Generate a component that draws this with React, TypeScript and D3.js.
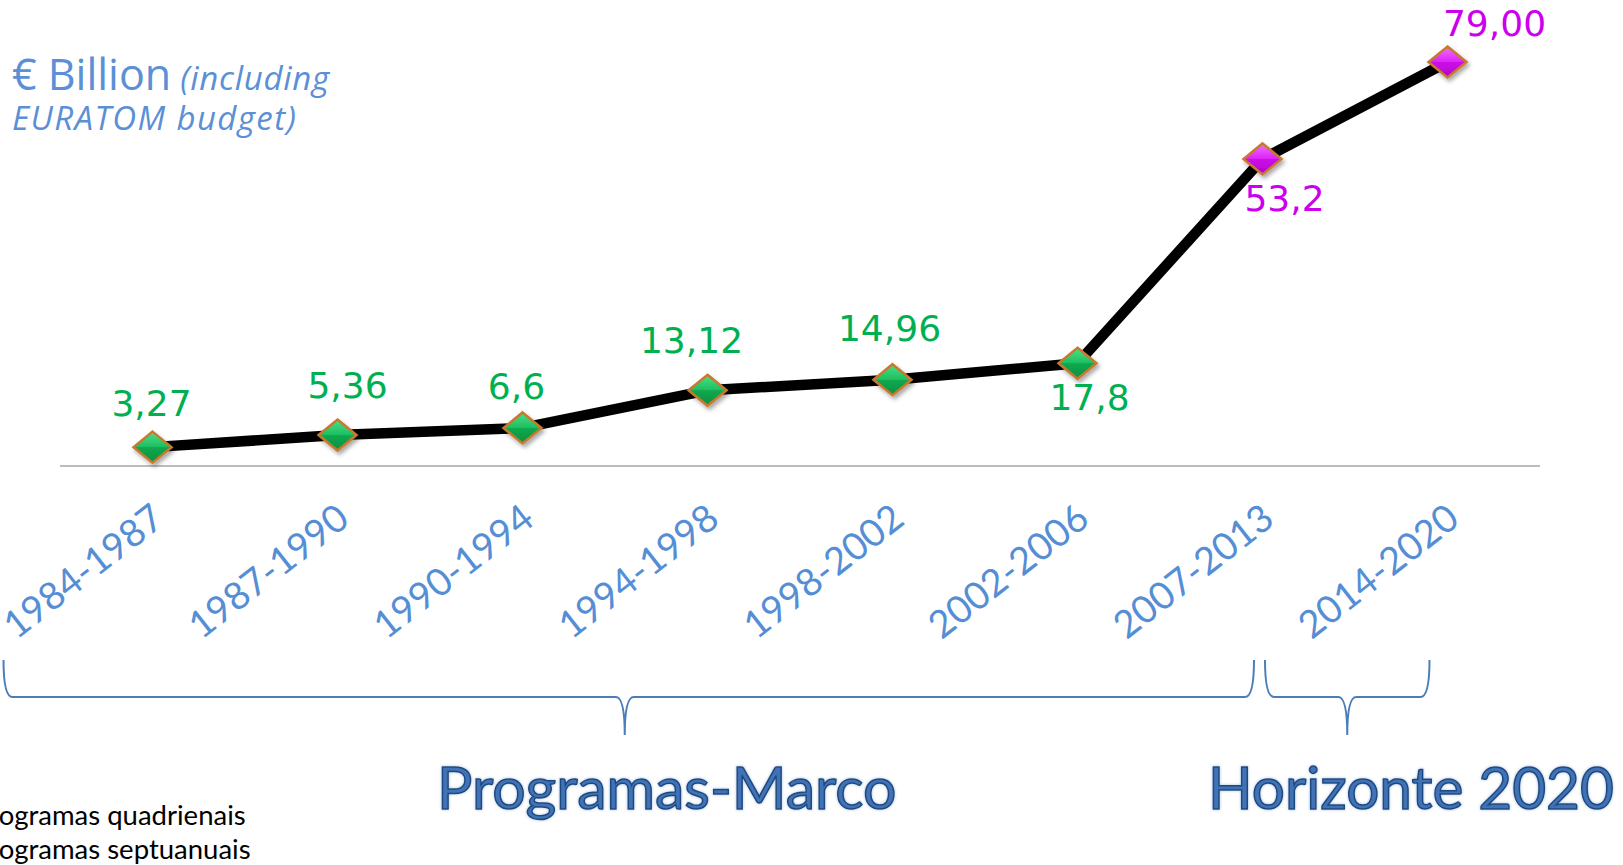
import React from "react";
import * as d3 from "d3";

const W = 1623;
const H = 865;

const periods = ["1984-1987", "1987-1990", "1990-1994", "1994-1998", "1998-2002", "2002-2006", "2007-2013", "2014-2020"];
// plotted heights (last point sits lower than its label says)
const budget = [3.27, 5.36, 6.6, 13.12, 14.96, 17.8, 53.2, 70];
const budgetLabels = ["3,27", "5,36", "6,6", "13,12", "14,96", "17,8", "53,2", "79,00"];
const programme = ["FP", "FP", "FP", "FP", "FP", "FP", "H2020", "H2020"];
const groupNames = ["Programas-Marco", "Horizonte 2020"];
const legendLines = ["Programas quadrienais", "Programas septuanuais"];

// label nudges [dx, dy] relative to the marker
const labelNudge = [[-1, -31], [10, -37], [-6, -29], [-16, -37], [-3, -39], [12, 47], [22, 52], [47, -26]];

const green = "#00B050";
const magenta = "#CC00EE";
const axisBlue = "#558ED5";

const App = () => {
  const x = d3.scaleBand<string>().domain(periods).range([60, 1540]);
  const cx = (p: string) => (x(p) as number) + x.bandwidth() / 2;
  const y = d3.scaleLinear().domain([0, 70]).range([466, 62]);

  const pts = periods.map((p, i) => ({ p, v: budget[i], x: cx(p), y: y(budget[i]), g: programme[i] }));
  const line = d3.line<typeof pts[0]>().x((d) => d.x).y((d) => d.y);

  const diamond = "M0,-15.5L19,0L0,15.5L-19,0Z";

  // braces under the axis labels
  const brace = (x0: number, x1: number, tip: number) => {
    const top = 660, h = 697, bot = 735, r = 9;
    return `M${x0},${top} Q${x0},${h} ${x0 + r},${h} L${tip - r},${h} Q${tip},${h} ${tip},${bot} Q${tip},${h} ${tip + r},${h} L${x1 - r},${h} Q${x1},${h} ${x1},${top}`;
  };
  const split = (cx(periods[6]) + cx(periods[7])) / 2 - 95;
  const b1 = [cx(periods[0]) - 149, split - 6];
  const b2 = [split + 5, cx(periods[7]) - 18];
  const t1 = (b1[0] + b1[1]) / 2 - 4;
  const t2 = (b2[0] + b2[1]) / 2;

  return (
    <svg width={W} height={H} style={{ position: "absolute", left: 0, top: 0, background: "#fff" }}>
      <defs>
        <linearGradient id="gGreen" x1="0" y1="0" x2="0" y2="1">
          <stop offset="0" stopColor="#4BE08A" />
          <stop offset="0.5" stopColor="#1DBE5F" />
          <stop offset="0.5" stopColor="#12A94F" />
          <stop offset="1" stopColor="#0C8F40" />
        </linearGradient>
        <linearGradient id="gMag" x1="0" y1="0" x2="0" y2="1">
          <stop offset="0" stopColor="#F070FF" />
          <stop offset="0.5" stopColor="#DD22F8" />
          <stop offset="0.5" stopColor="#CC10E8" />
          <stop offset="1" stopColor="#B000CC" />
        </linearGradient>
        <filter id="shadow" x="-50%" y="-50%" width="200%" height="200%">
          <feDropShadow dx="2" dy="3" stdDeviation="2" floodOpacity="0.35" />
        </filter>
        <filter id="glow" x="-10%" y="-20%" width="120%" height="140%">
          <feDropShadow dx="0" dy="0" stdDeviation="1.5" floodColor="#8FB0DA" floodOpacity="0.8" />
        </filter>
      </defs>

      {/* title */}
      <text x={12} y={90} fill="#5B8FD6" fontFamily="'Open Sans', sans-serif">
        <tspan fontSize={43}>€ Billion</tspan>
        <tspan fontSize={33} fontStyle="italic" dx={9} letterSpacing={0.7}>(including</tspan>
      </text>
      <text x={12} y={130} fill="#5B8FD6" fontFamily="'Open Sans', sans-serif" fontSize={33} fontStyle="italic" letterSpacing={1.4}>
        EURATOM budget)
      </text>

      {/* baseline */}
      <line x1={60} x2={1540} y1={y(0)} y2={y(0)} stroke="#A6A6A6" strokeWidth={1.5} />

      <path d={line(pts) as string} fill="none" stroke="#000" strokeWidth={10.5} strokeLinejoin="round" />

      {pts.map((d) => (
        <path key={d.p} d={diamond} transform={`translate(${d.x},${d.y})`}
          fill={d.g === "FP" ? "url(#gGreen)" : "url(#gMag)"} stroke="#C8792F" strokeWidth={2.5}
          filter="url(#shadow)" />
      ))}

      {pts.map((d, i) => (
        <text key={"l" + d.p} x={d.x + labelNudge[i][0]} y={d.y + labelNudge[i][1]} textAnchor="middle"
          fontFamily="'DejaVu Sans', Verdana, sans-serif" fontSize={36} fill={d.g === "FP" ? green : magenta}>
          {budgetLabels[i]}
        </text>
      ))}

      {/* category labels */}
      {periods.map((p) => (
        <text key={"c" + p} transform={`translate(${cx(p) + 14},523) rotate(-38)`} textAnchor="end"
          fontFamily="Lato, sans-serif" fontSize={38} fill={axisBlue}>
          {p}
        </text>
      ))}

      {/* braces */}
      <g fill="none" stroke="#4A7EBB" strokeWidth={2}>
        <path d={brace(b1[0], b1[1], t1)} />
        <path d={brace(b2[0], b2[1], t2)} />
      </g>

      <g fontFamily="Lato, sans-serif" fill="#3F72B5" stroke="#1F4A80" strokeWidth={1.5} filter="url(#glow)">
        <text x={t1 + 42} y={809} textAnchor="middle" fontSize={59}>{groupNames[0]}</text>
        <text x={1411} y={809} textAnchor="middle" fontSize={58.5}>{groupNames[1]}</text>
      </g>

      <g fontFamily="Lato, sans-serif" fontSize={27.5} fill="#000">
        {legendLines.map((t, i) => (
          <text key={t} x={-27} y={825 + i * 34}>{t}</text>
        ))}
      </g>
    </svg>
  );
};

export default App;
